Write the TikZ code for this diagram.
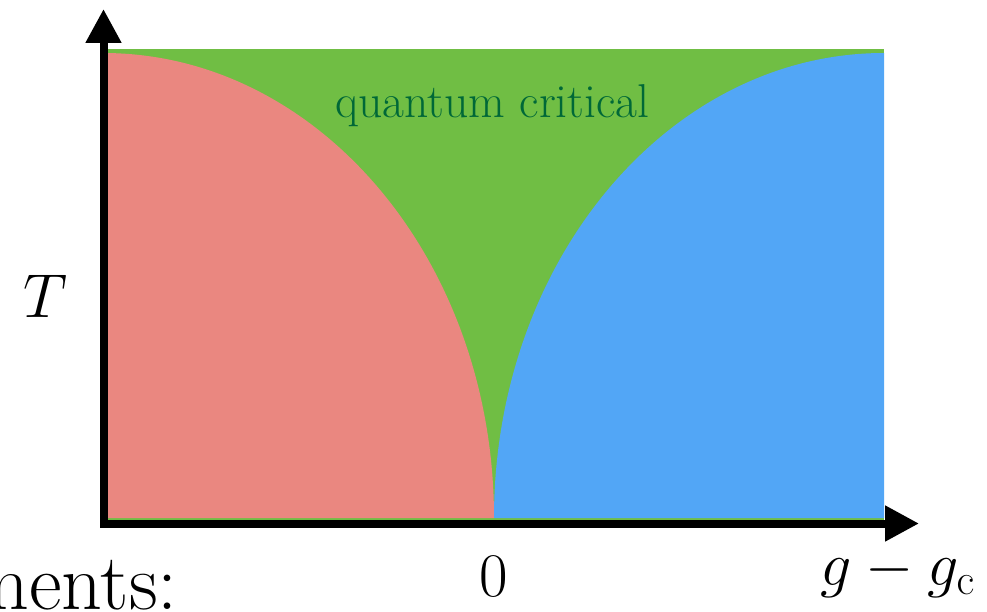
\documentclass[tikz,border=0pt]{standalone}
\usepackage{fix-cm}
\usetikzlibrary{arrows.meta}
\definecolor{qgreen}{HTML}{70BE44}
\definecolor{qred}{HTML}{EA8780}
\definecolor{qblue}{HTML}{52A6F6}
\definecolor{qtext}{HTML}{006837}
\begin{document}
\begin{tikzpicture}[x=1pt,y=1pt,
  axis/.style={line width=8pt, -{Triangle[length=34pt,width=34pt]}},
  lbl/.style={inner sep=0pt, font=\fontsize{62}{70}\selectfont}]
\useasboundingbox (0,0) rectangle (987,611);
\fill[qgreen] (103,90) rectangle (884,562);
\fill[qred] (103,93) -- (103,558) arc[start angle=90,end angle=0,x radius=391,y radius=465] -- cycle;
\fill[qblue] (494,93) arc[start angle=180,end angle=90,x radius=390,y radius=465] -- (884,93) -- cycle;
\coordinate (ybase) at (103.5,83.5);
\coordinate (xbase) at (103.5,87.5);
\coordinate (ytip) at (103.5,602);
\coordinate (xtip) at (919,87.5);
\draw[axis] (ybase) -- (ytip);
\draw[axis] (xbase) -- (xtip);
\node[lbl, anchor=base] (T) at (46,293) {$T$};
\node[lbl, anchor=base] (zero) at (494,15) {$0$};
\node[lbl, anchor=base east] (g) at (975,26) {$g-g_{\mathrm{c}}$};
\node[anchor=base, inner sep=0pt, text=qtext, font=\fontsize{47.5}{55}\selectfont] (qc) at (492.5,493) {quantum critical};
\node[anchor=base east, inner sep=0pt, font=\fontsize{80}{90}\selectfont] (m) at (178,2) {ments:};
\end{tikzpicture}
\end{document}
